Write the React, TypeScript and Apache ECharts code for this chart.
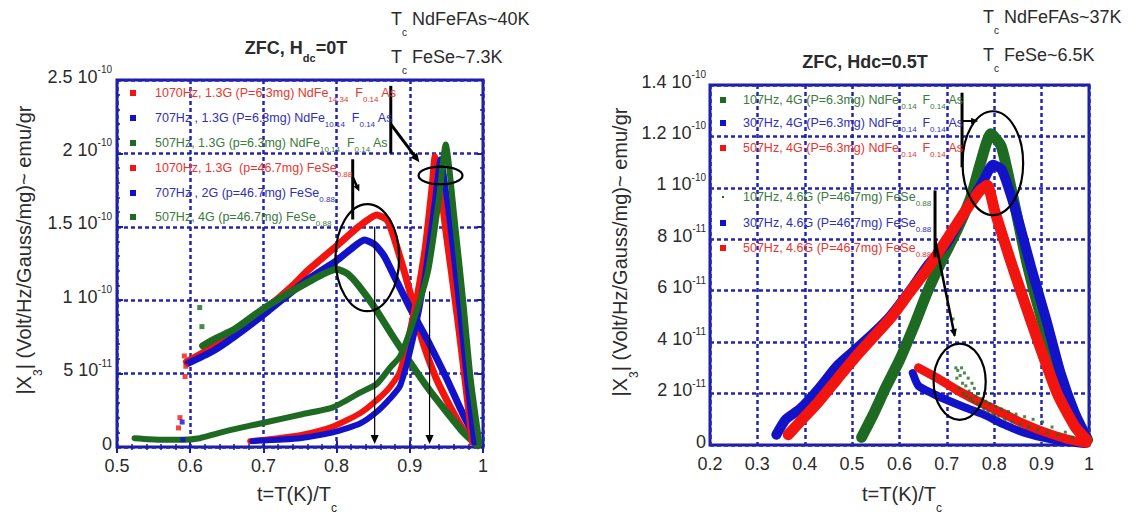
import { useEffect, useRef } from "react";
import * as echarts from "echarts";

const FONT = "'Liberation Sans', Arial, Helvetica, sans-serif";
const RED = "#f2140f";
const BLUE = "#1212c9";
const GREEN = "#1e6a22";
const NAVY = "#1b1ba8";
const GRIDDASH = "#2424b4";
const TXT = "#2b2b2b";

// ---------- Left panel (ZFC, Hdc=0T): x = t = T/Tc, y = |X3| in units of 1e-10 ----------
const leftXTicks = ["0.5", "0.6", "0.7", "0.8", "0.9", "1"];
const leftYTicks = [["0", ""], ["5 10", "-11"], ["1 10", "-10"], ["1.5 10", "-10"], ["2 10", "-10"], ["2.5 10", "-10"]];

// sharp peaks (P=6.3mg NdFe..As)
const leftNdRed = [[0.682, 0.04], [0.72, 0.06], [0.75, 0.08], [0.795, 0.14], [0.832, 0.23], [0.855, 0.32], [0.873, 0.41], [0.887, 0.52], [0.905, 0.91], [0.92, 1.34], [0.93, 1.78], [0.934, 1.98], [0.95, 1.42], [0.965, 0.86], [0.975, 0.45], [0.985, 0.03]];
const leftNdBlue = [[0.685, 0.04], [0.72, 0.05], [0.75, 0.06], [0.795, 0.1], [0.832, 0.16], [0.855, 0.24], [0.873, 0.33], [0.887, 0.42], [0.905, 0.75], [0.92, 1.14], [0.935, 1.7], [0.942, 1.96], [0.955, 1.52], [0.968, 0.95], [0.978, 0.47], [0.988, 0.03]];
const leftNdGreen = [[0.524, 0.06], [0.56, 0.05], [0.59, 0.05], [0.613, 0.06], [0.635, 0.09], [0.659, 0.12], [0.705, 0.17], [0.75, 0.22], [0.795, 0.27], [0.832, 0.37], [0.855, 0.43], [0.873, 0.54], [0.887, 0.62], [0.905, 0.86], [0.925, 1.2], [0.94, 1.7], [0.949, 2.06], [0.961, 1.56], [0.973, 0.99], [0.983, 0.47], [0.995, 0.03]];
// broad humps (p=46.7mg FeSe)
const leftSeRed = [[0.595, 0.58], [0.63, 0.68], [0.66, 0.78], [0.705, 0.95], [0.74, 1.1], [0.76, 1.2], [0.8, 1.37], [0.83, 1.5], [0.855, 1.58], [0.87, 1.54], [0.885, 1.32], [0.9, 1.06], [0.915, 0.76], [0.935, 0.48], [0.96, 0.23], [0.978, 0.08], [0.993, 0.01]];
const leftSeBlue = [[0.597, 0.57], [0.63, 0.65], [0.66, 0.75], [0.705, 0.92], [0.76, 1.14], [0.8, 1.27], [0.82, 1.35], [0.838, 1.41], [0.852, 1.38], [0.865, 1.3], [0.88, 1.15], [0.9, 0.95], [0.925, 0.72], [0.95, 0.47], [0.973, 0.22], [0.993, 0.03]];
const leftSeGreen = [[0.617, 0.69], [0.635, 0.74], [0.66, 0.8], [0.705, 0.96], [0.76, 1.12], [0.8, 1.21], [0.815, 1.18], [0.83, 1.1], [0.852, 0.95], [0.876, 0.76], [0.9, 0.58], [0.925, 0.4], [0.95, 0.24], [0.973, 0.1], [0.993, 0.01]];
// stray points
const leftStrayRed = [[0.593, 0.48], [0.594, 0.55], [0.592, 0.62], [0.586, 0.2], [0.584, 0.13]];
const leftStrayBlue = [[0.589, 0.17], [0.59, 0.05]];
const leftStrayGreen = [[0.613, 0.95], [0.616, 0.82]];

// ---------- Right panel (ZFC, Hdc=0.5T): y in units of 1e-11 ----------
const rightXTicks = ["0.2", "0.3", "0.4", "0.5", "0.6", "0.7", "0.8", "0.9", "1"];
const rightYTicks = [["0", ""], ["2 10", "-11"], ["4 10", "-11"], ["6 10", "-11"], ["8 10", "-11"], ["1 10", "-10"], ["1.2 10", "-10"], ["1.4 10", "-10"]];

const rightNdGreen = [[0.52, 0.3], [0.545, 1.2], [0.57, 2.2], [0.6, 3.3], [0.63, 4.6], [0.66, 6.0], [0.69, 7.2], [0.72, 8.3], [0.75, 9.6], [0.77, 10.9], [0.793, 12.1], [0.815, 11.6], [0.84, 9.6], [0.87, 7.0], [0.9, 4.9], [0.93, 3.2], [0.96, 1.6], [0.98, 0.8], [0.997, 0.2]];
const rightNdBlue = [[0.34, 0.4], [0.36, 1.0], [0.39, 1.4], [0.43, 2.2], [0.467, 3.05], [0.5, 3.6], [0.545, 4.35], [0.58, 5.0], [0.622, 6.0], [0.66, 7.0], [0.7, 7.85], [0.739, 9.1], [0.778, 10.3], [0.797, 10.9], [0.816, 10.7], [0.847, 9.0], [0.878, 6.9], [0.91, 4.86], [0.94, 2.8], [0.971, 1.2], [0.995, 0.3]];
const rightNdRed = [[0.365, 0.4], [0.39, 0.9], [0.43, 1.7], [0.47, 2.6], [0.506, 3.4], [0.545, 4.2], [0.584, 5.0], [0.62, 5.9], [0.661, 6.9], [0.7, 8.0], [0.739, 9.1], [0.77, 9.9], [0.785, 10.1], [0.801, 9.1], [0.832, 7.3], [0.863, 5.6], [0.894, 3.95], [0.933, 2.0], [0.971, 0.7], [0.995, 0.2]];
const rightSeBlue = [[0.628, 2.8], [0.64, 2.3], [0.67, 2.0], [0.7, 1.75], [0.74, 1.45], [0.776, 1.2], [0.82, 0.8], [0.86, 0.5], [0.9, 0.3], [0.95, 0.12], [0.99, 0.04]];
const rightSeRed = [[0.64, 3.0], [0.68, 2.6], [0.72, 2.15], [0.776, 1.6], [0.816, 1.25], [0.86, 0.85], [0.9, 0.55], [0.95, 0.25], [0.995, 0.06]];
const rightSeGreen = [[0.713, 4.9], [0.716, 4.3], [0.719, 3.0], [0.721, 2.6], [0.723, 2.9], [0.726, 2.2], [0.728, 2.7], [0.731, 3.0], [0.733, 2.4], [0.735, 2.0], [0.737, 2.8], [0.74, 2.3], [0.742, 1.9], [0.745, 2.6], [0.747, 2.1], [0.75, 1.8], [0.753, 2.4], [0.755, 1.7], [0.758, 2.2], [0.761, 1.9], [0.764, 1.6], [0.767, 2.0], [0.771, 1.5], [0.774, 1.8], [0.778, 1.4], [0.782, 1.7], [0.787, 1.3], [0.791, 1.6], [0.797, 1.2], [0.803, 1.5], [0.808, 1.1], [0.815, 1.4], [0.822, 1.0], [0.83, 1.3], [0.838, 0.9], [0.846, 1.2], [0.855, 0.8], [0.864, 1.1], [0.873, 0.7], [0.882, 1.0], [0.892, 0.6], [0.902, 0.9], [0.912, 0.5], [0.922, 0.7], [0.935, 0.4], [0.95, 0.5], [0.965, 0.3]];

// legend labels: [normal, sub, normal, sub, normal]
const leftLegend = [
  ["1070Hz, 1.3G (P=6.3mg) NdFe", "14.34", "  F", "0.14", " As"],
  ["707Hz , 1.3G (P=6.3mg) NdFe", "10.14", "  F", "0.14", " As"],
  ["507Hz, 1.3G (p=6.3mg) NdFe", "10.14", "  F", "0.14", " As"],
  ["1070Hz, 1.3G  (p=46.7mg) FeSe", "0.88"],
  ["707Hz , 2G (p=46.7mg) FeSe", "0.88"],
  ["507Hz, 4G (p=46.7mg) FeSe", "0.88"],
];
const rightLegend = [
  ["107Hz, 4G (P=6.3mg) NdFe", " 0.14 ", " F", "0.14", " As"],
  ["307Hz, 4G (P=6.3mg) NdFe", " 0.14 ", " F", "0.14", " As"],
  ["507Hz, 4G (P=6.3mg) NdFe", " 0.14 ", " F", "0.14", " As"],
  ["107Hz, 4.6G (P=46.7mg) FeSe", "0.88"],
  ["307Hz, 4.6G (P=46.7mg) FeSe", "0.88"],
  ["507Hz, 4.6G (P=46.7mg) FeSe", "0.88"],
];

const plain = (parts: string[]) => parts.join("").replace(/\s+/g, " ");
const richLegend = (parts: string[]) => parts.map((p, i) => (i % 2 === 0 ? `{n|${p}}` : `{s|${p}}`)).join("");

const yFmt = (ticks: string[][], min: number, step: number) => (v: number) => {
  const i = Math.round((v - min) / step);
  const t = ticks[i];
  if (!t) return "";
  return t[1] ? `{m|${t[0]}}{s|${t[1]}}` : `{m|${t[0]}}`;
};
const xFmt = (ticks: string[], min: number, step: number) => (v: number) => {
  const i = Math.round((v - min) / step);
  return ticks[i] ?? "";
};

const labelRich = {
  m: { fontSize: 18, fontFamily: FONT, color: TXT, lineHeight: 24 },
  s: { fontSize: 10, fontFamily: FONT, color: TXT, lineHeight: 10, verticalAlign: "top" },
};
const dashed = { show: true, lineStyle: { type: [4, 3], color: GRIDDASH, width: 2.5 } };

function lineSeries(name: string, data: number[][], color: string, width: number, xi: number, yi: number, z: number) {
  return {
    type: "line",
    name,
    data,
    xAxisIndex: xi,
    yAxisIndex: yi,
    showSymbol: false,
    symbol: "none",
    smooth: 0.2,
    z,
    itemStyle: { color },
    lineStyle: { color, width, cap: "round", join: "round" },
  };
}
function dotSeries(name: string, data: number[][], color: string, size: number, xi: number, yi: number, z: number) {
  return {
    type: "scatter",
    name,
    data,
    xAxisIndex: xi,
    yAxisIndex: yi,
    symbol: "rect",
    symbolSize: size,
    z,
    itemStyle: { color },
  };
}

export default function App() {
  const ref = useRef<HTMLDivElement>(null);
  useEffect(() => {
    const chart = echarts.init(ref.current!, null, { renderer: "svg" });
    const tickStyle = { show: true, inside: true, length: 6, lineStyle: { color: NAVY, width: 2 } };
    const minorStyle = { show: true, splitNumber: 5, length: 3, lineStyle: { color: NAVY, width: 1.5 } };
    const option: any = {
      animation: false,
      backgroundColor: "#ffffff",
      textStyle: { fontFamily: FONT },
      grid: [
        { left: 117, top: 80, width: 366, height: 367, show: true, borderColor: NAVY, borderWidth: 3, backgroundColor: "transparent" },
        { left: 710, top: 85, width: 379, height: 360, show: true, borderColor: NAVY, borderWidth: 3, backgroundColor: "transparent" },
      ],
      xAxis: [
        {
          type: "value", gridIndex: 0, min: 0.5, max: 1, interval: 0.1, position: "bottom",
          axisLine: { show: false }, axisTick: tickStyle, minorTick: minorStyle, splitLine: dashed,
          axisLabel: { margin: 10, fontSize: 18, color: TXT, fontFamily: FONT, formatter: xFmt(leftXTicks, 0.5, 0.1) },
        },
        {
          type: "value", gridIndex: 0, min: 0.5, max: 1, interval: 0.1, position: "top",
          axisLine: { show: false }, axisTick: tickStyle, minorTick: minorStyle,
          splitLine: { show: false }, axisLabel: { show: false },
        },
        {
          type: "value", gridIndex: 1, min: 0.2, max: 1, interval: 0.1, position: "bottom",
          axisLine: { show: false }, axisTick: { show: false }, splitLine: dashed,
          axisLabel: { margin: 10, fontSize: 18, color: TXT, fontFamily: FONT, formatter: xFmt(rightXTicks, 0.2, 0.1) },
        },
      ],
      yAxis: [
        {
          type: "value", gridIndex: 0, min: 0, max: 2.5, interval: 0.5, position: "left",
          axisLine: { show: false }, axisTick: tickStyle, minorTick: minorStyle, splitLine: dashed,
          axisLabel: { margin: 5, padding: [0, 0, 7, 0], formatter: yFmt(leftYTicks, 0, 0.5), rich: labelRich },
        },
        {
          type: "value", gridIndex: 0, min: 0, max: 2.5, interval: 0.5, position: "right",
          axisLine: { show: false }, axisTick: tickStyle, minorTick: minorStyle,
          splitLine: { show: false }, axisLabel: { show: false },
        },
        {
          type: "value", gridIndex: 1, min: 0, max: 14, interval: 2, position: "left",
          axisLine: { show: false }, axisTick: { show: false }, splitLine: dashed,
          axisLabel: { margin: 4, padding: [0, 0, 7, 0], formatter: yFmt(rightYTicks, 0, 2), rich: labelRich },
        },
      ],
      series: [
        lineSeries(plain(leftLegend[3]), leftSeRed, RED, 7, 0, 0, 2),
        lineSeries(plain(leftLegend[4]), leftSeBlue, BLUE, 7, 0, 0, 3),
        lineSeries(plain(leftLegend[5]), leftSeGreen, GREEN, 7, 0, 0, 4),
        lineSeries(plain(leftLegend[0]), leftNdRed, RED, 6, 0, 0, 5),
        lineSeries(plain(leftLegend[1]), leftNdBlue, BLUE, 6, 0, 0, 6),
        lineSeries(plain(leftLegend[2]), leftNdGreen, GREEN, 6, 0, 0, 7),
        dotSeries("stray red", leftStrayRed, RED, 5, 0, 0, 8),
        dotSeries("stray blue", leftStrayBlue, BLUE, 5, 0, 0, 8),
        dotSeries("stray green", leftStrayGreen, GREEN, 5, 0, 0, 8),

        lineSeries(plain(rightLegend[0]), rightNdGreen, GREEN, 11, 2, 2, 2),
        lineSeries(plain(rightLegend[1]), rightNdBlue, BLUE, 10, 2, 2, 3),
        lineSeries(plain(rightLegend[2]), rightNdRed, RED, 11, 2, 2, 4),
        lineSeries(plain(rightLegend[4]), rightSeBlue, BLUE, 8, 2, 2, 5),
        lineSeries(plain(rightLegend[5]), rightSeRed, RED, 9, 2, 2, 6),
        dotSeries(plain(rightLegend[3]), rightSeGreen, GREEN, 3, 2, 2, 7),
      ],
    };
    chart.setOption(option);

    const P = (g: number, pt: number[]) => chart.convertToPixel({ gridIndex: g } as any, pt) as number[];
    const els: any[] = [];
    const txt = (x: number, y: number, text: string, size: number, opts: any = {}) => {
      els.push({
        type: "text", x, y, z: 100, rotation: opts.rotation || 0,
        style: {
          text, fill: opts.fill || TXT, fontSize: size, fontFamily: FONT, fontWeight: opts.bold ? "bold" : "normal",
          align: opts.align || "left", verticalAlign: opts.va || "middle", rich: opts.rich,
        },
      });
    };
    const ellipse = (g: number, c: number[], r: number[]) => {
      const p = P(g, c);
      const px = P(g, [c[0] + r[0], c[1]]);
      const py = P(g, [c[0], c[1] + r[1]]);
      els.push({ type: "ellipse", z: 100, shape: { cx: p[0], cy: p[1], rx: Math.abs(px[0] - p[0]), ry: Math.abs(py[1] - p[1]) }, style: { fill: "none", stroke: "#000", lineWidth: 2.2 } });
    };
    const seg = (g: number, a: number[], b: number[], w: number, head: number) => {
      const p0 = P(g, a);
      const p1 = P(g, b);
      const dx = p1[0] - p0[0], dy = p1[1] - p0[1];
      const L = Math.hypot(dx, dy) || 1;
      const ux = dx / L, uy = dy / L;
      const end = head > 0 ? [p1[0] - ux * head * 0.8, p1[1] - uy * head * 0.8] : p1;
      els.push({ type: "line", z: 100, shape: { x1: p0[0], y1: p0[1], x2: end[0], y2: end[1] }, style: { stroke: "#000", lineWidth: w } });
      if (head > 0) {
        const bx = p1[0] - ux * head, by = p1[1] - uy * head;
        const hw = head * 0.45;
        els.push({ type: "polygon", z: 100, shape: { points: [[p1[0], p1[1]], [bx - uy * hw, by + ux * hw], [bx + uy * hw, by - ux * hw]] }, style: { fill: "#000" } });
      }
    };

    // ---- Left panel annotations ----
    ellipse(0, [0.842, 1.29], [0.0435, 0.365]);
    ellipse(0, [0.942, 1.85], [0.03, 0.06]);
    seg(0, [0.874, 2.46], [0.874, 2.0], 3, 0);
    seg(0, [0.874, 2.2], [0.913, 1.94], 3, 9);
    seg(0, [0.822, 1.96], [0.822, 1.55], 3, 0);
    seg(0, [0.822, 1.84], [0.831, 1.74], 2.5, 7);
    seg(0, [0.852, 1.5], [0.852, 0.02], 1.2, 9);
    seg(0, [0.927, 1.06], [0.927, 0.02], 1.2, 9);

    // ---- Right panel annotations ----
    ellipse(1, [0.797, 10.96], [0.064, 2.02]);
    ellipse(1, [0.727, 2.46], [0.055, 1.48]);
    seg(1, [0.732, 13.7], [0.732, 10.8], 3, 0);
    seg(1, [0.732, 12.6], [0.766, 12.6], 2, 7);
    seg(1, [0.675, 9.9], [0.675, 7.3], 3, 0);
    seg(1, [0.675, 8.0], [0.717, 4.2], 2.5, 8);

    // ---- Legends ----
    const legRich = (fs: number) => ({
      n: { fontSize: fs, fontFamily: FONT, lineHeight: 20 },
      s: { fontSize: 8, fontFamily: FONT, lineHeight: 8, verticalAlign: "bottom" },
    });
    const leftColors = [RED, BLUE, GREEN, RED, BLUE, GREEN];
    const leftTextColors = ["#e8342c", "#2f2fb6", "#3b7a3b", "#e8342c", "#2f2fb6", "#3b7a3b"];
    const leftRows = [93, 118, 143, 168, 193, 217];
    leftLegend.forEach((parts, i) => {
      els.push({ type: "rect", z: 100, shape: { x: 130, y: leftRows[i] - 3, width: 6, height: 6 }, style: { fill: leftColors[i] } });
      txt(155, leftRows[i], richLegend(parts), 12.5, { fill: leftTextColors[i], rich: legRich(12.5) });
    });
    const rightColors = [GREEN, BLUE, RED, GREEN, BLUE, RED];
    const rightTextColors = ["#3b7a3b", "#2f2fb6", "#e8342c", "#3b7a3b", "#2f2fb6", "#e8342c"];
    const rightRows = [100, 123, 148, 197, 223, 248];
    rightLegend.forEach((parts, i) => {
      const s = i === 3 ? 2 : 6;
      els.push({ type: "rect", z: 100, shape: { x: 723 - s / 2, y: rightRows[i] - s / 2, width: s, height: s }, style: { fill: rightColors[i] } });
      txt(743, rightRows[i], richLegend(parts), 12.5, { fill: rightTextColors[i], rich: legRich(12.5) });
    });

    // ---- Titles and notes ----
    txt(296, 48, "{b|ZFC, H}{d|dc}{b|=0T}", 18, {
      align: "center",
      rich: { b: { fontSize: 18, fontWeight: "bold", fontFamily: FONT, lineHeight: 30 }, d: { fontSize: 11, fontWeight: "bold", fontFamily: FONT, lineHeight: 11, verticalAlign: "bottom" } },
    });
    txt(865, 62, "ZFC, Hdc=0.5T", 18, { align: "center", bold: true });

    const tcNote = (x: number, y: number, rest: string) => {
      txt(x, y, "T", 18);
      txt(x + 11, y + 13, "c", 10);
      txt(x + 21, y, rest, 18);
    };
    tcNote(391, 19, "NdFeFAs~40K");
    tcNote(391, 57, "FeSe~7.3K");
    tcNote(983, 17, "NdFeFAs~37K");
    tcNote(983, 55, "FeSe~6.5K");

    const nameRich = {
      m: { fontSize: 20, fontFamily: FONT, lineHeight: 40 },
      s: { fontSize: 12, fontFamily: FONT, lineHeight: 12, verticalAlign: "bottom" },
    };
    txt(297, 494, "{m|t=T(K)/T}{s|c}", 20, { align: "center", rich: nameRich });
    txt(902, 494, "{m|t=T(K)/T}{s|c}", 20, { align: "center", rich: nameRich });
    txt(24, 250, "{m||X}{s|3}{m|| (Volt/Hz/Gauss/mg)~ emu/gr}", 20, { align: "center", rotation: Math.PI / 2, rich: nameRich });
    txt(620, 252, "{m||X}{s|3}{m|| (Volt/Hz/Gauss/mg)~ emu/gr}", 20, { align: "center", rotation: Math.PI / 2, rich: nameRich });

    chart.setOption({ graphic: els });
    return () => chart.dispose();
  }, []);
  return <div ref={ref} style={{ position: "absolute", left: 0, top: 0, width: 1139, height: 518 }} />;
}
